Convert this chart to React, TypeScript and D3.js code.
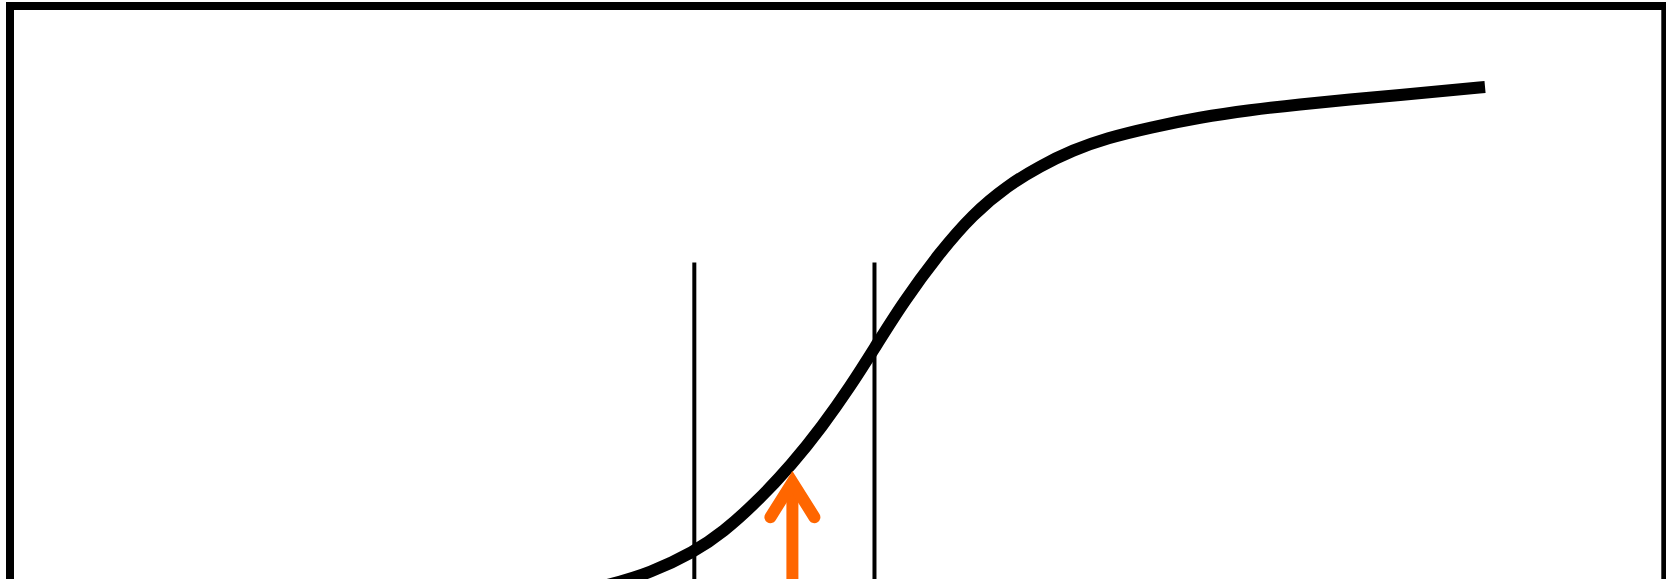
import React, { useRef, useEffect } from "react";
import * as d3 from "d3";

// S-curve (x: time share, y: adoption share, 0..100)
const curveX = [
  31.88, 37.5, 40, 42.75, 44.56, 46.69, 48.88, 50.75, 52.56, 54, 55.81, 58.13,
  60.19, 62.31, 64.38, 66.44, 68.56, 71.25, 74.38, 77.5, 80.63, 83.75, 86.88,
  90, 92.19,
];
const curveY = [
  5.67, 9.17, 11.17, 14.67, 17.95, 23.05, 29.3, 35.55, 42.42, 48.5, 56.23,
  64.67, 71, 75.67, 79, 81.67, 83.67, 85.42, 87.12, 88.33, 89.28, 90.08, 90.83,
  91.63, 92.17,
];

// two vertical markers and the arrow
const markerX = [42.77, 54.03];
const markerTop = 62.9;
const arrowX = 48.9;
const arrowTip = 26.3;

const W = 1666;
const H = 579;

export default function App() {
  const ref = useRef<SVGSVGElement>(null);

  useEffect(() => {
    const svg = d3.select(ref.current);
    svg.selectAll("*").remove();

    const x = d3.scaleLinear().domain([0, 100]).range([10, 1610]);
    const y = d3.scaleLinear().domain([0, 100]).range([640, 40]);

    // frame
    svg
      .append("rect")
      .attr("x", 10)
      .attr("y", 6)
      .attr("width", 1655.3)
      .attr("height", 900)
      .attr("fill", "#fff")
      .attr("stroke", "#000")
      .attr("stroke-width", 8);

    // vertical markers
    svg
      .selectAll(".marker")
      .data(markerX)
      .enter()
      .append("line")
      .attr("class", "marker")
      .attr("x1", (d) => x(d))
      .attr("x2", (d) => x(d))
      .attr("y1", y(markerTop))
      .attr("y2", y(0))
      .attr("stroke", "#000")
      .attr("stroke-width", 4);

    // curve
    const pts = curveX.map((v, i) => [v, curveY[i]] as [number, number]);
    const line = d3
      .line<[number, number]>()
      .x((d) => x(d[0]))
      .y((d) => y(d[1]))
      .curve(d3.curveBasis);

    svg
      .append("path")
      .attr("d", line(pts))
      .attr("fill", "none")
      .attr("stroke", "#000")
      .attr("stroke-width", 12)
      .attr("stroke-linecap", "butt");

    // arrow
    const ax = x(arrowX);
    const ay = y(arrowTip);
    svg
      .append("line")
      .attr("x1", ax)
      .attr("x2", ax)
      .attr("y1", ay + 4)
      .attr("y2", y(0))
      .attr("stroke", "#ff6600")
      .attr("stroke-width", 12);
    svg
      .append("path")
      .attr("d", `M${ax - 22},${ay + 35}L${ax},${ay}L${ax + 22},${ay + 35}`)
      .attr("fill", "none")
      .attr("stroke", "#ff6600")
      .attr("stroke-width", 12)
      .attr("stroke-linecap", "round")
      .attr("stroke-linejoin", "miter")
      .attr("stroke-miterlimit", 10);
  }, []);

  return (
    <svg
      ref={ref}
      width={W}
      height={H}
      style={{ position: "fixed", left: 0, top: 0, display: "block", background: "#fff" }}
    />
  );
}
